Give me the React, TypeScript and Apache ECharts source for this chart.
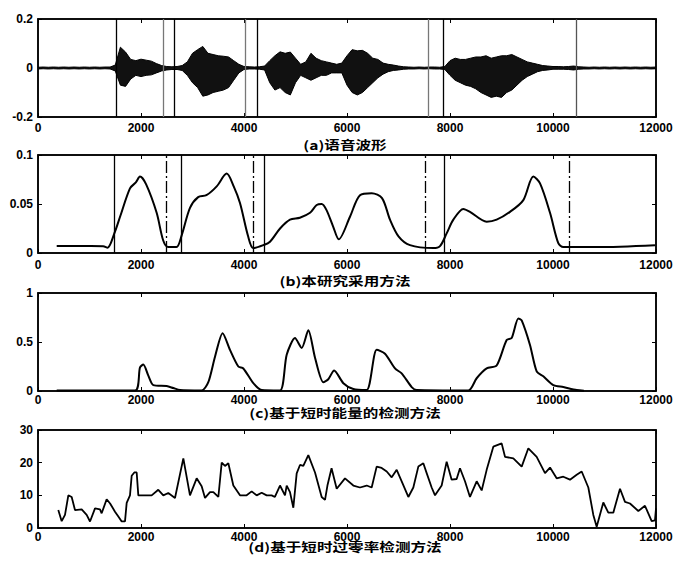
import React, { useEffect, useRef } from "react";
import * as echarts from "echarts";

// ---------- data ----------
const X_MIN = 0;
const X_MAX = 12000;
const X_INTERVAL = 2000;

const titles = [
  "(a)语音波形",
  "(b)本研究采用方法",
  "(c)基于短时能量的检测方法",
  "(d)基于短时过零率检测方法",
];

// (a) speech waveform envelope, sampled every 100 samples (0..12000)
const waveUpper = [
  0.003, 0.004, 0.003, 0.004, 0.003, 0.004, 0.003, 0.004, 0.003, 0.004,
  0.003, 0.004, 0.003, 0.004, 0.004, 0.012, 0.085, 0.065, 0.035, 0.03,
  0.036, 0.032, 0.028, 0.018, 0.01, 0.006, 0.005, 0.006, 0.01, 0.025,
  0.06, 0.075, 0.088, 0.06, 0.055, 0.05, 0.048, 0.045, 0.03, 0.015,
  0.006, 0.005, 0.004, 0.005, 0.008, 0.03, 0.05, 0.066, 0.06, 0.065,
  0.04, 0.015, 0.025, 0.06, 0.04, 0.03, 0.025, 0.02, 0.015, 0.02,
  0.05, 0.075, 0.07, 0.072, 0.06, 0.04, 0.035, 0.02, 0.015, 0.012,
  0.008, 0.005, 0.004, 0.003, 0.004, 0.003, 0.004, 0.004, 0.003, 0.006,
  0.03, 0.04, 0.035, 0.035, 0.04, 0.045, 0.045, 0.05, 0.04, 0.045,
  0.05, 0.05, 0.055, 0.045, 0.035, 0.025, 0.02, 0.015, 0.01, 0.008,
  0.006, 0.006, 0.005, 0.006, 0.008, 0.005, 0.004, 0.003, 0.004, 0.003,
  0.004, 0.003, 0.004, 0.003, 0.004, 0.003, 0.004, 0.003, 0.004, 0.003,
  0.004,
];
const waveLower = [
  -0.004, -0.003, -0.004, -0.003, -0.004, -0.003, -0.004, -0.003, -0.004, -0.003,
  -0.004, -0.003, -0.004, -0.003, -0.004, -0.012, -0.07, -0.075, -0.045, -0.03,
  -0.035, -0.03, -0.028, -0.02, -0.012, -0.008, -0.006, -0.006, -0.01, -0.03,
  -0.06, -0.08, -0.115, -0.11, -0.1, -0.095, -0.09, -0.08, -0.05, -0.02,
  -0.006, -0.004, -0.004, -0.005, -0.008, -0.06, -0.09, -0.08, -0.1, -0.11,
  -0.06, -0.03, -0.04, -0.05, -0.04, -0.03, -0.03, -0.02, -0.02, -0.02,
  -0.07, -0.1, -0.11, -0.1, -0.08, -0.06, -0.04, -0.025, -0.015, -0.01,
  -0.008, -0.005, -0.004, -0.004, -0.003, -0.004, -0.003, -0.004, -0.004, -0.006,
  -0.03, -0.05, -0.06, -0.07, -0.075, -0.085, -0.1, -0.11, -0.12, -0.115,
  -0.12, -0.1, -0.09, -0.07, -0.05, -0.035, -0.025, -0.015, -0.01, -0.008,
  -0.005, -0.005, -0.005, -0.006, -0.008, -0.005, -0.004, -0.004, -0.003, -0.004,
  -0.003, -0.004, -0.003, -0.004, -0.003, -0.004, -0.003, -0.004, -0.003, -0.004,
  -0.003,
];
const waveStep = 100;
// endpoint markers in (a)
const aLines = [1528, 2434, 2648, 4033, 4266, 7579, 7870, 10460];
const aLineColors = ["#000", "#777", "#000", "#777", "#000", "#777", "#000", "#555"];

// (b) proposed method feature
const bX = [363, 800, 1265, 1350, 1482, 1600, 1786, 1900, 1980, 2100, 2304, 2430, 2530, 2690, 2790, 2951, 3110, 3270, 3470, 3664, 3800, 3922, 4080, 4180, 4375, 4505, 4700, 4893, 5085, 5282, 5411, 5508, 5600, 5731, 5840, 6058, 6252, 6479, 6680, 6835, 7000, 7223, 7675, 7806, 7935, 8065, 8259, 8388, 8712, 8906, 9165, 9424, 9618, 9748, 9942, 10103, 10200, 10850, 11980];
const bY = [0.0071, 0.0071, 0.007, 0.0054, 0.02, 0.038, 0.066, 0.072, 0.078, 0.07, 0.041, 0.013, 0.006, 0.006, 0.018, 0.046, 0.057, 0.059, 0.068, 0.081, 0.068, 0.051, 0.017, 0.005, 0.008, 0.0115, 0.025, 0.034, 0.036, 0.041, 0.049, 0.05, 0.044, 0.027, 0.014, 0.037, 0.059, 0.061, 0.056, 0.034, 0.017, 0.008, 0.005, 0.007, 0.02, 0.034, 0.045, 0.042, 0.032, 0.034, 0.042, 0.054, 0.078, 0.071, 0.041, 0.01, 0.006, 0.006, 0.008];
const bSolidLines = [1482, 2790, 4395, 7890];
const bDashLines = [2499, 4181, 7515, 10311];

// (c) short-time energy
const cX = [363, 1884, 1980, 2045, 2140, 2240, 2498, 2627, 2757, 3178, 3307, 3437, 3585, 3728, 3890, 3987, 4181, 4343, 4699, 4829, 4990, 5120, 5249, 5379, 5540, 5637, 5750, 5929, 6123, 6382, 6576, 6738, 6932, 7061, 7256, 7353, 8356, 8518, 8712, 8906, 9100, 9197, 9327, 9392, 9553, 9683, 9812, 10005, 10200, 10460, 10600];
const cY = [0.005, 0.005, 0.24, 0.27, 0.16, 0.06, 0.05, 0.03, 0.01, 0.005, 0.09, 0.35, 0.59, 0.42, 0.25, 0.23, 0.08, 0.01, 0.005, 0.37, 0.54, 0.44, 0.62, 0.34, 0.09, 0.12, 0.21, 0.08, 0.02, 0.01, 0.42, 0.38, 0.23, 0.18, 0.04, 0.01, 0.005, 0.13, 0.23, 0.26, 0.52, 0.54, 0.74, 0.72, 0.47, 0.2, 0.15, 0.06, 0.04, 0.01, 0.003];

// (d) short-time zero-crossing rate
const dX = [394, 460, 524, 589, 654, 718, 848, 945, 1010, 1107, 1204, 1236, 1333, 1400, 1495, 1560, 1625, 1689, 1722, 1786, 1819, 1870, 1916, 1948, 2207, 2336, 2433, 2530, 2660, 2822, 2951, 3081, 3178, 3243, 3340, 3405, 3502, 3567, 3631, 3696, 3793, 3922, 4051, 4149, 4246, 4343, 4440, 4537, 4600, 4699, 4796, 4829, 4893, 4958, 5023, 5087, 5152, 5249, 5379, 5508, 5573, 5620, 5700, 5800, 5961, 6123, 6252, 6382, 6479, 6576, 6673, 6771, 6868, 6965, 7062, 7191, 7288, 7385, 7482, 7547, 7644, 7709, 7838, 7935, 8032, 8129, 8194, 8291, 8388, 8518, 8615, 8712, 8841, 9003, 9068, 9230, 9392, 9521, 9683, 9845, 9942, 10071, 10200, 10330, 10460, 10557, 10686, 10783, 10848, 10977, 11074, 11171, 11301, 11398, 11495, 11657, 11786, 11916, 11980, 12000];
const dY = [5.5, 2.1, 4, 10, 9.5, 5.5, 5.7, 4, 2, 6, 5.7, 4.5, 8.8, 7.5, 5, 3.5, 2, 2, 7.7, 10, 16, 17, 17, 10, 10, 11.7, 10, 10.7, 9.2, 21.3, 10, 15.2, 12.8, 9.2, 11, 11, 9.5, 20, 19, 19.8, 13, 10, 10, 11.2, 10, 10.8, 10, 10, 9.5, 13, 10, 13, 11, 6.2, 16.7, 19.3, 19, 22.3, 17, 9.5, 8.6, 13, 18.3, 12, 15.2, 13, 12.4, 13, 12.4, 18.8, 18.4, 17.3, 15.5, 17.8, 14.3, 9.5, 12.4, 18.8, 19.8, 16.8, 12.4, 10, 13, 20.3, 14.8, 15, 18.3, 14.3, 9.5, 14.3, 11.5, 17.8, 24.9, 25.9, 21.8, 21.3, 18.8, 24.4, 21.8, 16.8, 18.5, 15.2, 15.7, 14.8, 16.3, 17.3, 12.4, 4, 0.4, 7.8, 4.7, 4.7, 12, 8, 7.5, 5.2, 6.8, 2.1, 2.3, 6];

const yRanges = [
  { min: -0.2, max: 0.2, interval: 0.2 },
  { min: 0, max: 0.1, interval: 0.05 },
  { min: 0, max: 1, interval: 0.5 },
  { min: 0, max: 30, interval: 10 },
];

// ---------- layout ----------
const gridTops = [19, 155, 293, 430];
const gridHeight = 98;
const gridLeft = 38;
const gridWidth = 618;
const titleYs = [145, 281, 413, 547];
const xLabelMargins = [5, 6, 3, 3];

const pairs = (xs: number[], ys: number[]) => xs.map((x, i) => [x, ys[i]]);

export default function App() {
  const ref = useRef<HTMLDivElement>(null);

  useEffect(() => {
    if (!ref.current) return;
    const chart = echarts.init(ref.current, null, { renderer: "svg" });

    const labelFont = {
      color: "#000",
      fontSize: 12,
      fontWeight: "bold" as const,
      fontFamily: "Liberation Sans, Arial, sans-serif",
      formatter: (v: number) => String(v),
    };

    const grids = gridTops.map((t) => ({
      left: gridLeft,
      top: t,
      width: gridWidth,
      height: gridHeight,
      show: true,
      borderColor: "#000",
      borderWidth: 1.5,
      backgroundColor: "#fff",
    }));

    const axisLine = { show: true, onZero: false, lineStyle: { color: "#000", width: 1.5 } };
    const axisTick = { show: true, inside: true, length: 4, lineStyle: { color: "#000", width: 1 } };

    const xAxes: any[] = [];
    const yAxes: any[] = [];
    gridTops.forEach((_, i) => {
      xAxes.push({
        gridIndex: i,
        type: "value",
        min: X_MIN,
        max: X_MAX,
        interval: X_INTERVAL,
        position: "bottom",
        axisLine,
        axisTick,
        axisLabel: { ...labelFont, margin: xLabelMargins[i] },
        splitLine: { show: false },
      });
      xAxes.push({
        gridIndex: i,
        type: "value",
        min: X_MIN,
        max: X_MAX,
        interval: X_INTERVAL,
        position: "top",
        axisLine,
        axisTick,
        axisLabel: { show: false },
        splitLine: { show: false },
      });
      const r = yRanges[i];
      yAxes.push({
        gridIndex: i,
        type: "value",
        min: r.min,
        max: r.max,
        interval: r.interval,
        position: "left",
        axisLine,
        axisTick,
        axisLabel: { ...labelFont, margin: 5 },
        splitLine: { show: false },
      });
      yAxes.push({
        gridIndex: i,
        type: "value",
        min: r.min,
        max: r.max,
        interval: r.interval,
        position: "right",
        axisLine,
        axisTick,
        axisLabel: { show: false },
        splitLine: { show: false },
      });
    });

    const waveUp = waveUpper.map((v, i) => [i * waveStep, v]);
    const waveLo = waveLower.map((v, i) => [i * waveStep, v]);

    const lineBase = {
      type: "line",
      showSymbol: false,
      symbol: "none",
      silent: true,
      animation: false,
    };

    const series: any[] = [
      {
        ...lineBase,
        xAxisIndex: 0,
        yAxisIndex: 0,
        data: waveUp,
        lineStyle: { color: "#000", width: 1 },
        areaStyle: { color: "#111", opacity: 1, origin: 0 },
        markLine: {
          symbol: ["none", "none"],
          silent: true,
          animation: false,
          label: { show: false },
          data: aLines.map((x, i) => ({
            xAxis: x,
            lineStyle: { color: aLineColors[i], width: 1.3, type: "solid" },
          })),
        },
      },
      {
        ...lineBase,
        xAxisIndex: 0,
        yAxisIndex: 0,
        data: waveLo,
        lineStyle: { color: "#000", width: 1 },
        areaStyle: { color: "#111", opacity: 1, origin: 0 },
      },
      {
        ...lineBase,
        xAxisIndex: 2,
        yAxisIndex: 2,
        data: pairs(bX, bY),
        smooth: 0.3,
        lineStyle: { color: "#000", width: 2 },
        markLine: {
          symbol: ["none", "none"],
          silent: true,
          animation: false,
          label: { show: false },
          data: [
            ...bSolidLines.map((x) => ({
              xAxis: x,
              lineStyle: { color: "#000", width: 1.3, type: "solid" },
            })),
            ...bDashLines.map((x) => ({
              xAxis: x,
              lineStyle: { color: "#000", width: 1.3, type: [12, 3, 2, 3] },
            })),
          ],
        },
      },
      {
        ...lineBase,
        xAxisIndex: 4,
        yAxisIndex: 4,
        data: pairs(cX, cY),
        smooth: 0.25,
        lineStyle: { color: "#000", width: 2 },
      },
      {
        ...lineBase,
        xAxisIndex: 6,
        yAxisIndex: 6,
        data: pairs(dX, dY),
        lineStyle: { color: "#000", width: 1.8 },
      },
    ];

    const graphics = titles.map((t, i) => ({
      type: "text",
      x: 345,
      y: titleYs[i],
      scaleX: 1.3,
      silent: true,
      style: {
        text: t,
        fill: "#000",
        font: "bold 12px 'Noto Sans CJK SC', sans-serif",
        textAlign: "center",
        textVerticalAlign: "middle",
      },
    }));

    chart.setOption({
      animation: false,
      backgroundColor: "#fff",
      grid: grids,
      xAxis: xAxes,
      yAxis: yAxes,
      series,
      graphic: graphics,
    });

    return () => chart.dispose();
  }, []);

  return (
    <div
      ref={ref}
      style={{ position: "absolute", left: 0, top: 0, width: 676, height: 563, background: "#fff" }}
    />
  );
}
